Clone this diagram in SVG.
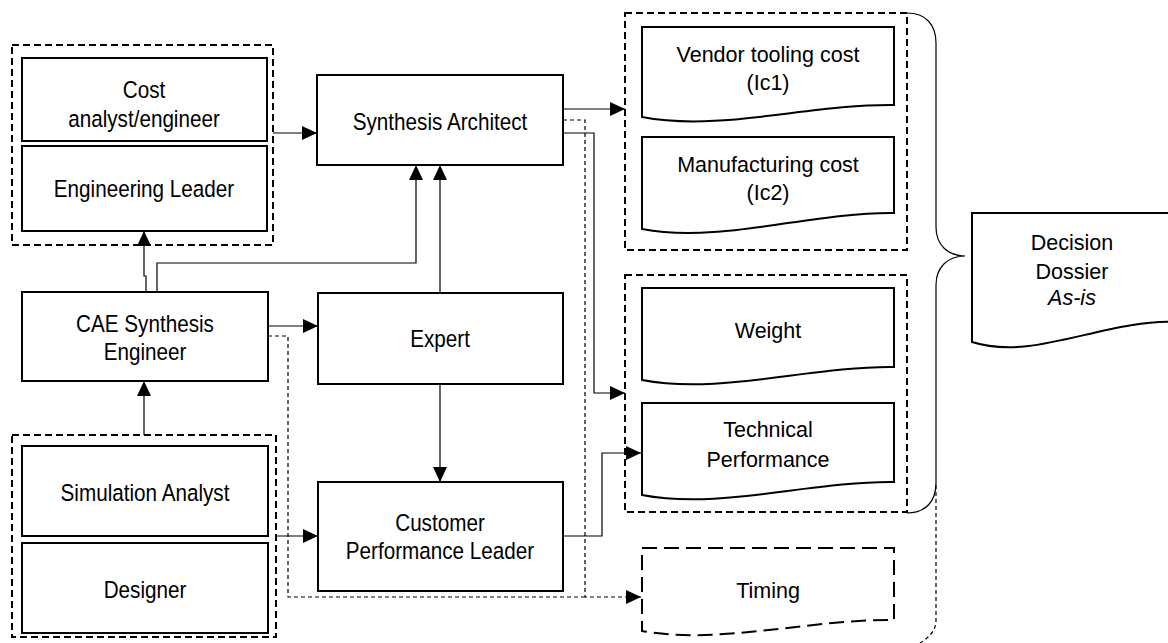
<svg xmlns="http://www.w3.org/2000/svg" width="1168" height="643" viewBox="0 0 1168 643">
<style>
.box{fill:#fff;stroke:#000;stroke-width:2}
.grp{fill:none;stroke:#000;stroke-width:2;stroke-dasharray:7 4}
.doc{fill:#fff;stroke:#000;stroke-width:2}
.docd{fill:#fff;stroke:#000;stroke-width:2;stroke-dasharray:15 7}
.ln{fill:none;stroke:#000;stroke-width:1.2}
.dl{fill:none;stroke:#000;stroke-width:1.2;stroke-dasharray:4 3}
.tl{font-family:"Liberation Sans",Arial,sans-serif;font-size:23.5px;text-anchor:middle;fill:#000}
.tr{font-family:"Liberation Sans",Arial,sans-serif;font-size:21.5px;text-anchor:middle;fill:#000}
</style>
<defs>
<marker id="ah" markerUnits="userSpaceOnUse" markerWidth="15" markerHeight="14" refX="15" refY="7" orient="auto">
<path d="M0,0 L15,7 L0,14 z" fill="#000"/>
</marker>
</defs>
<rect width="1168" height="643" fill="#fff"/>

<g id="group-cost-eng"><rect class="grp" x="12" y="45" width="261" height="200"/></g>
<g id="group-sim-design"><rect class="grp" x="12" y="435" width="264" height="202"/></g>
<g id="group-cost-docs"><rect class="grp" x="625" y="13" width="282" height="237"/></g>
<g id="group-perf-docs"><rect class="grp" x="625" y="275" width="282" height="237"/></g>

<g id="connectors">
<path class="ln" d="M273,133 H317" marker-end="url(#ah)"/>
<path class="ln" d="M157,292 V263 H416 V165" marker-end="url(#ah)"/>
<path class="ln" d="M146,292 V276 H144 V231" marker-end="url(#ah)"/>
<path class="ln" d="M440,293 V165" marker-end="url(#ah)"/>
<path class="ln" d="M268,326 H318" marker-end="url(#ah)"/>
<path class="ln" d="M440,384 V482" marker-end="url(#ah)"/>
<path class="ln" d="M144,435 V381" marker-end="url(#ah)"/>
<path class="ln" d="M276,536 H318" marker-end="url(#ah)"/>
<path class="ln" d="M563,109 H625" marker-end="url(#ah)"/>
<path class="ln" d="M563,133 H594 V393 H625" marker-end="url(#ah)"/>
<path class="dl" d="M563,120 H585 V597 H641" marker-end="url(#ah)"/>
<path class="dl" d="M268,336 H288 V597 H585"/>
<path class="ln" d="M563,536 H602 V453 H641" marker-end="url(#ah)"/>
<path class="ln" d="M907,13 C926,13 936,25 936,43 V227 C936,245 948,256 965,256 C948,256 936,267 936,285 V483 C936,501 926,513 907,513"/>
<path class="dl" d="M936,485 V620 C936,630 930,637 920,643"/>
</g>

<g id="node-cost-analyst">
<rect class="box" x="22" y="58" width="245" height="83"/>
<text class="tl" transform="translate(144,98) scale(0.88,1)">Cost</text>
<text class="tl" transform="translate(144,127) scale(0.88,1)">analyst/engineer</text>
</g>
<g id="node-engineering-leader">
<rect class="box" x="22" y="146" width="245" height="85"/>
<text class="tl" transform="translate(144,197) scale(0.88,1)">Engineering Leader</text>
</g>
<g id="node-synthesis-architect">
<rect class="box" x="317" y="75" width="246" height="90"/>
<text class="tl" transform="translate(440,130) scale(0.88,1)">Synthesis Architect</text>
</g>
<g id="node-cae">
<rect class="box" x="22" y="292" width="246" height="89"/>
<text class="tl" transform="translate(145,332) scale(0.88,1)">CAE Synthesis</text>
<text class="tl" transform="translate(145,360) scale(0.88,1)">Engineer</text>
</g>
<g id="node-expert">
<rect class="box" x="318" y="293" width="245" height="91"/>
<text class="tl" transform="translate(440,347) scale(0.88,1)">Expert</text>
</g>
<g id="node-simulation-analyst">
<rect class="box" x="22" y="446" width="246" height="90"/>
<text class="tl" transform="translate(145,501) scale(0.88,1)">Simulation Analyst</text>
</g>
<g id="node-designer">
<rect class="box" x="22" y="543" width="246" height="90"/>
<text class="tl" transform="translate(145,598) scale(0.88,1)">Designer</text>
</g>
<g id="node-cpl">
<rect class="box" x="318" y="482" width="245" height="109"/>
<text class="tl" transform="translate(440,531) scale(0.88,1)">Customer</text>
<text class="tl" transform="translate(440,559) scale(0.88,1)">Performance Leader</text>
</g>

<g id="doc-vendor">
<path class="doc" d="M642,27 H894 V105 C810,104 720,132 642,117 Z"/>
<text class="tr" x="768" y="62">Vendor tooling cost</text>
<text class="tr" x="768" y="90">(Ic1)</text>
</g>
<g id="doc-manufacturing">
<path class="doc" d="M642,137 H894 V213 C810,212 720,244 642,229 Z"/>
<text class="tr" x="768" y="172">Manufacturing cost</text>
<text class="tr" x="768" y="200">(Ic2)</text>
</g>
<g id="doc-weight">
<path class="doc" d="M642,288 H894 V367 C810,366 720,395 642,380 Z"/>
<text class="tr" x="768" y="338">Weight</text>
</g>
<g id="doc-technical">
<path class="doc" d="M642,403 H894 V482 C810,481 720,510 642,495 Z"/>
<text class="tr" x="768" y="437">Technical</text>
<text class="tr" x="768" y="467">Performance</text>
</g>
<g id="doc-timing">
<path class="docd" d="M642,548 H894 V620 C810,619 720,645 642,631 Z"/>
<text class="tr" x="768" y="598">Timing</text>
</g>
<g id="doc-decision">
<path class="doc" d="M972,213 H1180 V322 C1105,318 1035,362 972,342 Z"/>
<text class="tr" x="1072" y="250">Decision</text>
<text class="tr" x="1072" y="279">Dossier</text>
<text class="tr" x="1072" y="305" font-style="italic">As-is</text>
</g>
</svg>
